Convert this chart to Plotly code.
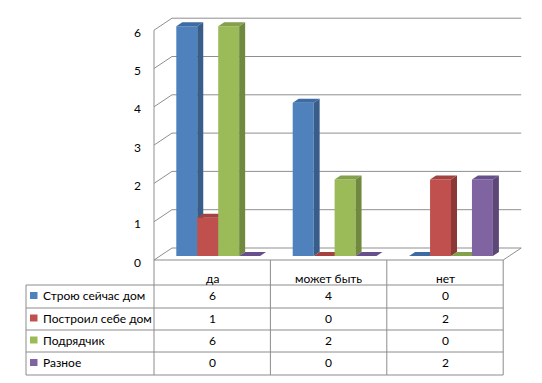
import plotly.graph_objects as go

# ---------------- data ----------------
categories = ["да", "может быть", "нет"]
series_names = ["Строю сейчас дом", "Построил себе дом", "Подрядчик", "Разное"]
stroyu = [6, 4, 0]
postroil = [1, 0, 2]
podryadchik = [6, 2, 0]
raznoe = [0, 0, 2]
y_ticks = [0, 1, 2, 3, 4, 5, 6]

series_values = [stroyu, postroil, podryadchik, raznoe]

# ---------------- styles ----------------
front_colors = ["#4F81BD", "#C0504D", "#9BBB59", "#8064A2"]
side_colors = ["#385D8A", "#8C3836", "#71893E", "#5C4776"]
top_colors = ["#3D6BA2", "#A4423F", "#83A04A", "#67508C"]
grid_color = "#8F8F8F"
table_color = "#8C8C8C"
FONT = "Lato"
FS = 12

W, H = 542, 383
# pixel <-> data mapping (layout geometry)
X0, XS = 212.2, 116.4
Y0, YS = 260.0, 38.3


def X(px):
    return (px - X0) / XS


def Y(py):
    return (Y0 - py) / YS


def ddx(d):
    return 18.0 * d / XS


def ddy(d):
    return 12.0 * d / YS


BW = 0.18
D1, D2 = 1.0 / 3.0, 2.0 / 3.0

fig = go.Figure()

# ---------------- bars (each series on its own overlaid axes for correct occlusion) ----------------
for k, (name, vals) in enumerate(zip(series_names, series_values)):
    suf = "" if k == 0 else str(k + 1)
    xa, ya = "x" + suf, "y" + suf
    off = (k - 1.5) * BW
    xc = [i + off + ddx(D1) for i in range(len(categories))]
    fig.add_trace(go.Bar(
        x=xc, y=vals, base=ddy(D1), width=BW,
        marker=dict(color=front_colors[k], line=dict(width=0)),
        xaxis=xa, yaxis=ya, name=name, showlegend=False, hoverinfo="skip",
    ))
    sx, sy, tx, ty = [], [], [], []
    for i, v in enumerate(vals):
        xl = xc[i] - BW / 2
        xr = xc[i] + BW / 2
        yb = ddy(D1)
        yt = yb + v
        ex, ey = ddx(D2) - ddx(D1), ddy(D2) - ddy(D1)
        if v > 0:
            sx += [xr, xr, xr + ex, xr + ex, xr, None]
            sy += [yb, yt, yt + ey, yb + ey, yb, None]
        tx += [xl, xr, xr + ex, xl + ex, xl, None]
        ty += [yt, yt, yt + ey, yt + ey, yt, None]
    if sx:
        fig.add_trace(go.Scatter(x=sx, y=sy, mode="lines", fill="toself",
                                 fillcolor=side_colors[k], line=dict(width=0),
                                 xaxis=xa, yaxis=ya, showlegend=False, hoverinfo="skip"))
    fig.add_trace(go.Scatter(x=tx, y=ty, mode="lines", fill="toself",
                             fillcolor=top_colors[k], line=dict(width=0),
                             xaxis=xa, yaxis=ya, showlegend=False, hoverinfo="skip"))

shapes = []
annotations = []
ncat = len(categories)
xl_edge, xr_edge = -0.5, ncat - 0.5

# ---------------- walls / gridlines ----------------
for v in y_ticks:
    shapes.append(dict(type="line", xref="x", yref="y", layer="below",
                       x0=xl_edge + ddx(1), y0=v + ddy(1), x1=xr_edge + ddx(1), y1=v + ddy(1),
                       line=dict(color=grid_color, width=1)))
    shapes.append(dict(type="line", xref="x", yref="y", layer="below",
                       x0=xl_edge, y0=v, x1=xl_edge + ddx(1), y1=v + ddy(1),
                       line=dict(color=grid_color, width=1)))
    annotations.append(dict(x=X(143), y=v, xref="x", yref="y", text=str(v),
                            showarrow=False, xanchor="right", yanchor="middle", yshift=-2,
                            font=dict(family=FONT, size=FS, color="#000000")))
shapes.append(dict(type="line", xref="x", yref="y", layer="below",
                   x0=xl_edge, y0=0, x1=xl_edge, y1=max(y_ticks),
                   line=dict(color=grid_color, width=1)))
shapes.append(dict(type="line", xref="x", yref="y", layer="below",
                   x0=xr_edge, y0=0, x1=xr_edge + ddx(1), y1=ddy(1),
                   line=dict(color=grid_color, width=1)))

# ---------------- data table ----------------
row_lines = [285, 308, 330, 352, 375]
row_centers = [(a + b) / 2 for a, b in zip(row_lines[:-1], row_lines[1:])]
# horizontal lines
shapes.append(dict(type="line", xref="x", yref="y", x0=xl_edge, y0=0, x1=xr_edge, y1=0,
                   line=dict(color=table_color, width=1)))
for py in row_lines:
    shapes.append(dict(type="line", xref="x", yref="y", x0=X(26), y0=Y(py), x1=xr_edge, y1=Y(py),
                       line=dict(color=table_color, width=1)))
# vertical lines
for j in range(ncat + 1):
    shapes.append(dict(type="line", xref="x", yref="y", x0=j - 0.5, y0=0, x1=j - 0.5, y1=Y(375),
                       line=dict(color=table_color, width=1)))
shapes.append(dict(type="line", xref="x", yref="y", x0=X(26), y0=Y(285), x1=X(26), y1=Y(375),
                   line=dict(color=table_color, width=1)))

for i, c in enumerate(categories):
    annotations.append(dict(x=i, y=Y(278), xref="x", yref="y", text=c, showarrow=False,
                            xanchor="center", yanchor="middle",
                            font=dict(family=FONT, size=FS, color="#000000")))
for k, (name, vals) in enumerate(zip(series_names, series_values)):
    cy = row_centers[k] - 1
    shapes.append(dict(type="rect", xref="x", yref="y", x0=X(30), x1=X(37.5),
                       y0=Y(cy + 3.5), y1=Y(cy - 3.5),
                       fillcolor=front_colors[k], line=dict(width=0)))
    annotations.append(dict(x=X(41), y=Y(cy), xref="x", yref="y", text=name, showarrow=False,
                            xanchor="left", yanchor="middle",
                            font=dict(family=FONT, size=FS, color="#000000")))
    for i, v in enumerate(vals):
        annotations.append(dict(x=i, y=Y(cy), xref="x", yref="y", text=str(v), showarrow=False,
                                xanchor="center", yanchor="middle",
                                font=dict(family=FONT, size=FS, color="#000000")))

# ---------------- layout ----------------
xr = [X(0), X(W)]
yr = [Y(H), Y(0)]
ax = dict(range=xr, visible=False, fixedrange=True)
ay = dict(range=yr, visible=False, fixedrange=True)
layout = dict(
    width=W, height=H, margin=dict(l=0, r=0, t=0, b=0),
    paper_bgcolor="white", plot_bgcolor="white",
    barmode="overlay", showlegend=False,
    xaxis=dict(ax, domain=[0, 1]), yaxis=dict(ay, domain=[0, 1]),
    shapes=shapes, annotations=annotations,
)
for k in range(2, 5):
    layout["xaxis%d" % k] = dict(ax, overlaying="x", anchor="y%d" % k)
    layout["yaxis%d" % k] = dict(ay, overlaying="y", anchor="x%d" % k)
fig.update_layout(**layout)

fig.write_html("out.html", config={"displayModeBar": False})
